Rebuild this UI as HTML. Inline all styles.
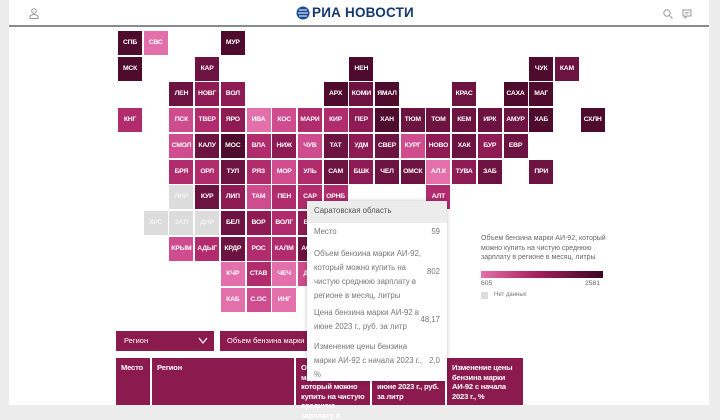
<!DOCTYPE html>
<html><head><meta charset="utf-8"><style>
*{margin:0;padding:0;box-sizing:border-box}
body{width:720px;height:405px;overflow:hidden;background:#ececec;font-family:"Liberation Sans","DejaVu Sans",sans-serif;position:relative}
#page{position:absolute;left:9px;top:0;width:700px;height:405px;background:#fff}
#hdr{position:absolute;left:9px;top:0;width:700px;height:27px;background:#fff;border-bottom:2px solid #8a8a8a}
.t{position:absolute;width:24px;height:24px;color:#fff;font-size:6.8px;font-weight:bold;text-align:center;line-height:24px;letter-spacing:-0.2px;white-space:nowrap;overflow:hidden}
.A{background:#4e0b2d}.B{background:#6d1341}.C{background:#8e1b53}.D{background:#b02c6c}.E{background:#cf4c8e}.F{background:#e470ab}.G{background:#dcdcdc;color:#f4f4f4}
#tip{position:absolute;left:307px;top:201px;width:140px;height:180px;background:#fff;box-shadow:0 0 4px rgba(0,0,0,.25);font-size:7.8px;color:#777;line-height:14px}
#tip .h{background:#ececec;color:#555;height:22px;line-height:20px;padding-left:7px;font-size:7.8px}
.r{position:absolute;left:7px;width:114px}
.v{position:absolute;right:7px}
.hd{position:absolute;top:358px;height:47px;background:#8b1a4e;color:#fff;font-size:7.6px;font-weight:bold;line-height:9.5px;padding:5px 5px;letter-spacing:-0.2px}
</style></head><body>
<div id="page"></div>
<div id="hdr">
 <svg style="position:absolute;left:20px;top:8px" width="10" height="11" viewBox="0 0 10 11"><circle cx="5" cy="3" r="2.3" fill="none" stroke="#999"/><path d="M1 10.5v-2.5q4-3 8 0v2.5z" fill="none" stroke="#999"/></svg>
 <svg style="position:absolute;left:287px;top:6px" width="14" height="14" viewBox="0 0 14 14"><circle cx="7" cy="7" r="6.5" fill="#1c4c95"/><path d="M3 4h8M2 7h10M3 10h8" stroke="#fff" stroke-width="1"/></svg>
 <div style="position:absolute;left:303px;top:5px;font-size:13.5px;font-weight:bold;color:#16396f;letter-spacing:0.2px">РИА НОВОСТИ</div>
 <svg style="position:absolute;left:654px;top:9px" width="10" height="10"><circle cx="4" cy="4" r="3.2" fill="none" stroke="#999"/><path d="M6.5 6.5L9.5 9.5" stroke="#999"/></svg>
 <svg style="position:absolute;left:673px;top:9px" width="10" height="10"><path d="M1 1h8v6H5L3 9V7H1z" fill="none" stroke="#999"/><path d="M3 3.5h4M3 5h3" stroke="#999" stroke-width=".7"/></svg>
</div>
<div id="tiles"></div>
<script>
var d=[
[0,0,"СПБ","A"],[0,1,"СВС","F"],[0,4,"МУР","A"],
[1,0,"МСК","A"],[1,3,"КАР","B"],[1,9,"НЕН","A"],[1,16,"ЧУК","A"],[1,17,"КАМ","B"],
[2,2,"ЛЕН","B"],[2,3,"НОВГ","C"],[2,4,"ВОЛ","C"],[2,8,"АРХ","A"],[2,9,"КОМИ","B"],[2,10,"ЯМАЛ","A"],[2,13,"КРАС","B"],[2,15,"САХА","A"],[2,16,"МАГ","A"],
[3,0,"КНГ","D"],[3,2,"ПСК","E"],[3,3,"ТВЕР","D"],[3,4,"ЯРО","C"],[3,5,"ИВА","F"],[3,6,"КОС","E"],[3,7,"МАРИ","D"],[3,8,"КИР","D"],[3,9,"ПЕР","C"],[3,10,"ХАН","A"],[3,11,"ТЮМ","B"],[3,12,"ТОМ","B"],[3,13,"КЕМ","B"],[3,14,"ИРК","B"],[3,15,"АМУР","B"],[3,16,"ХАБ","A"],[3,18,"СХЛН","A"],
[4,2,"СМОЛ","E"],[4,3,"КАЛУ","B"],[4,4,"МОС","A"],[4,5,"ВЛА","D"],[4,6,"НИЖ","C"],[4,7,"ЧУВ","E"],[4,8,"ТАТ","B"],[4,9,"УДМ","C"],[4,10,"СВЕР","B"],[4,11,"КУРГ","E"],[4,12,"НОВО","C"],[4,13,"ХАК","B"],[4,14,"БУР","C"],[4,15,"ЕВР","B"],
[5,2,"БРЯ","D"],[5,3,"ОРЛ","D"],[5,4,"ТУЛ","B"],[5,5,"РЯЗ","D"],[5,6,"МОР","E"],[5,7,"УЛЬ","D"],[5,8,"САМ","B"],[5,9,"БШК","C"],[5,10,"ЧЕЛ","B"],[5,11,"ОМСК","B"],[5,12,"АЛ.К","F"],[5,13,"ТУВА","C"],[5,14,"ЗАБ","B"],[5,16,"ПРИ","B"],
[6,2,"ЛНР","G"],[6,3,"КУР","B"],[6,4,"ЛИП","C"],[6,5,"ТАМ","E"],[6,6,"ПЕН","D"],[6,7,"САР","D"],[6,8,"ОРНБ","D"],[6,12,"АЛТ","D"],
[7,1,"ХРС","G"],[7,2,"ЗАП","G"],[7,3,"ДНР","G"],[7,4,"БЕЛ","B"],[7,5,"ВОР","C"],[7,6,"ВОЛГ","D"],[7,7,"ВЛГ","C"],
[8,2,"КРЫМ","E"],[8,3,"АДЫГ","D"],[8,4,"КРДР","B"],[8,5,"РОС","D"],[8,6,"КАЛМ","D"],[8,7,"АСТР","B"],
[9,4,"КЧР","F"],[9,5,"СТАВ","D"],[9,6,"ЧЕЧ","F"],[9,7,"ДАГ","E"],
[10,4,"КАБ","F"],[10,5,"С.ОС","E"],[10,6,"ИНГ","F"]];
var h="";d.forEach(function(a){h+='<div class="t '+a[3]+'" style="left:'+(118+a[1]*25.7).toFixed(1)+'px;top:'+(31+a[0]*25.7).toFixed(1)+'px">'+a[2]+'</div>'});
document.getElementById("tiles").innerHTML=h;
</script>
<!-- legend -->
<div style="position:absolute;left:481px;top:234px;width:128px;font-size:7px;color:#666;line-height:9.6px">Объем бензина марки АИ-92, который можно купить на чистую среднюю зарплату в регионе в месяц, литры</div>
<div style="position:absolute;left:481px;top:271px;width:122px;height:7px;background:linear-gradient(90deg,#e470ab,#a8205f 45%,#3a0520)"></div>
<div style="position:absolute;left:481px;top:280px;font-size:6.8px;color:#666">605</div>
<div style="position:absolute;left:585px;top:280px;font-size:6.8px;color:#666">2581</div>
<div style="position:absolute;left:481px;top:292px;width:7px;height:7px;background:#dcdcdc"></div>
<div style="position:absolute;left:494px;top:292px;font-size:6px;color:#777">Нет данных</div>
<!-- controls -->
<div style="position:absolute;left:116px;top:331px;width:98px;height:20px;background:#8b1a4e;color:#fff;font-size:7.5px;line-height:20px;padding-left:8px">Регион<svg style="position:absolute;right:6px;top:6px" width="10" height="7"><path d="M1 1l4 5 4-5" fill="none" stroke="#fff" stroke-width="1.2"/></svg></div>
<div style="position:absolute;left:220px;top:331px;width:120px;height:20px;background:#8b1a4e;color:#fff;font-size:7.5px;line-height:20px;padding-left:7px;white-space:nowrap;overflow:hidden">Объем бензина марки АИ-92</div>
<div class="hd" style="left:116px;width:34px">Место</div>
<div class="hd" style="left:152px;width:142px">Регион</div>
<div class="hd" style="left:296px;width:74px">Объем бензина марки АИ-92, который можно купить на чистую среднюю зарплату в</div>
<div class="hd" style="left:372px;width:73px">Цена бензина марки АИ-92 в июне 2023 г., руб. за литр</div>
<div class="hd" style="left:447px;width:76px;padding-right:2px">Изменение цены бензина марки АИ-92 с начала 2023 г., %</div>
<!-- tooltip -->
<div id="tip">
 <div class="h">Саратовская область</div>
 <div class="r" style="top:24px">Место</div><div class="v" style="top:24px">59</div>
 <div class="r" style="top:46px">Объем бензина марки АИ-92, который можно купить на чистую среднюю зарплату в регионе в месяц, литры</div><div class="v" style="top:64px">802</div>
 <div class="r" style="top:105px">Цена бензина марки АИ-92 в июне 2023 г., руб. за литр</div><div class="v" style="top:112px">48,17</div>
 <div class="r" style="top:139px">Изменение цены бензина марки АИ-92 с начала 2023 г., %</div><div class="v" style="top:153px">2,0</div>
</div>
</body></html>
